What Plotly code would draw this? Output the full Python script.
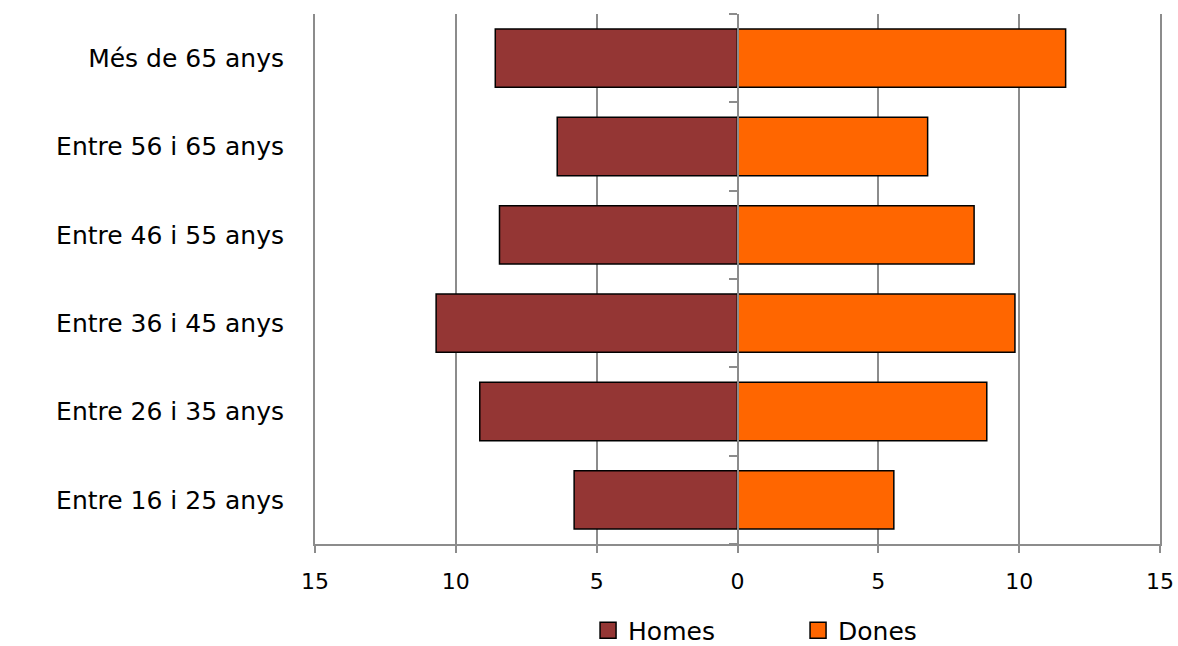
import plotly.graph_objects as go

categories = ["Entre 16 i 25 anys", "Entre 26 i 35 anys", "Entre 36 i 45 anys",
              "Entre 46 i 55 anys", "Entre 56 i 65 anys", "Més de 65 anys"]
homes = [5.8, 9.15, 10.7, 8.45, 6.4, 8.6]
dones = [5.55, 8.85, 9.85, 8.4, 6.75, 11.65]
tick_vals = [-15, -10, -5, 0, 5, 10, 15]
tick_text = ["15", "10", "5", "0", "5", "10", "15"]

grid = "#8c8c8c"
c_homes = "#943634"
c_dones = "#FF6600"

fig = go.Figure()
fig.add_trace(go.Bar(y=categories, x=[-v for v in homes], orientation="h", name="Homes",
                     marker=dict(color=c_homes, line=dict(color="black", width=1.5)),
                     customdata=homes, showlegend=False,
                     hovertemplate="%{y}: %{customdata}<extra>Homes</extra>"))
fig.add_trace(go.Bar(y=categories, x=dones, orientation="h", name="Dones",
                     marker=dict(color=c_dones, line=dict(color="black", width=1.5)),
                     showlegend=False))
# legend entries with larger square keys
for nm, col in [("Homes", c_homes), ("Dones", c_dones)]:
    fig.add_trace(go.Scatter(x=[None], y=[None], mode="markers", name=nm,
                             marker=dict(symbol="square", size=16, color=col,
                                         line=dict(color="black", width=1.5))))
# invisible trace to carry the central axis
fig.add_trace(go.Scatter(x=[0], y=[0], yaxis="y2", mode="markers", marker=dict(opacity=0),
                         showlegend=False, hoverinfo="skip"))

fig.update_layout(
    width=1178, height=646,
    paper_bgcolor="white", plot_bgcolor="white",
    barmode="relative", bargap=0.34,
    margin=dict(l=315, r=18, t=14, b=102, autoexpand=False),
    font=dict(family="DejaVu Sans", size=25, color="black"),
    xaxis=dict(range=[-15, 15], tickvals=tick_vals, ticktext=tick_text,
               showgrid=True, gridcolor=grid, gridwidth=2, zeroline=False,
               showline=True, linecolor=grid, linewidth=2,
               ticks="outside", ticklen=7, tickcolor=grid, tickwidth=2,
               ticklabelstandoff=10,
               tickfont=dict(family="DejaVu Sans", size=22), fixedrange=True,
               automargin=False),
    yaxis=dict(categoryorder="array", categoryarray=categories, range=[-0.5, 5.5],
               showgrid=False, zeroline=False, showline=True, mirror=True,
               linecolor=grid, linewidth=2, ticks="", automargin=False,
               ticklabelstandoff=24, tickfont=dict(family="DejaVu Sans", size=25),
               fixedrange=True),
    yaxis2=dict(overlaying="y", anchor="free", position=0.5, range=[-0.5, 5.5],
                tickvals=[-0.5, 0.5, 1.5, 2.5, 3.5, 4.5, 5.5], showticklabels=False,
                showline=True, linecolor=grid, linewidth=2, ticks="outside", ticklen=8,
                tickcolor=grid, tickwidth=2, showgrid=False, zeroline=False,
                fixedrange=True),
    legend=dict(orientation="h", xref="container", x=0.4992, xanchor="left",
                yref="container", y=0.024, yanchor="middle",
                font=dict(family="DejaVu Sans", size=25), itemwidth=30,
                itemsizing="trace",
                entrywidthmode="pixels", entrywidth=165),
    showlegend=True,
)

fig.write_html("out.html", config={"displayModeBar": False},
               post_script="document.body.style.margin='0';")
